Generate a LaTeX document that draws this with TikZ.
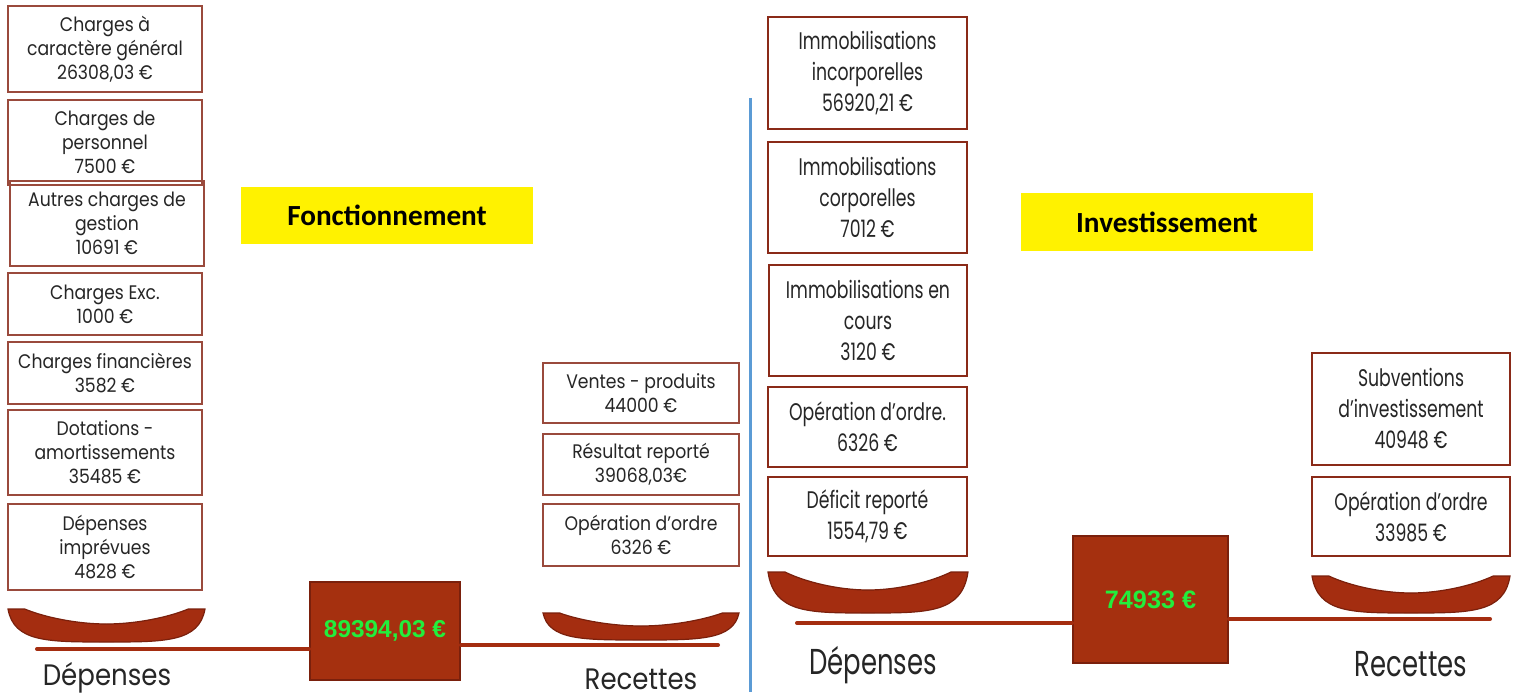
\documentclass[tikz,border=0pt]{standalone}
\usepackage{fontspec}
\setmainfont{Poppins}
\newfontfamily\lfont[FakeStretch=0.88]{Poppins}
\newfontfamily\rfont[FakeStretch=0.72]{Poppins}
\newfontfamily\hfont{Carlito}
\newfontfamily\tfont{Liberation Sans}
\definecolor{brd}{HTML}{9A4A3C}
\definecolor{brdR}{HTML}{8A2A18}
\definecolor{bowlc}{HTML}{A42D10}
\definecolor{bowld}{HTML}{7A200C}
\definecolor{tot}{HTML}{A5300F}
\definecolor{totg}{HTML}{22EE3C}
\definecolor{txt}{HTML}{262626}
\definecolor{blueline}{HTML}{5B9BD5}
\tikzset{
  lbox/.style={draw=brd, line width=1pt, inner sep=0pt, align=center, text=txt,
    minimum width=97pt, font=\lfont\fontsize{9.8pt}{12pt}\selectfont},
  rbox/.style={draw=brdR, line width=1pt, inner sep=0pt, align=center, text=txt,
    font=\rfont\fontsize{12pt}{15.5pt}\selectfont},
  totbox/.style={draw=bowld, line width=1pt, fill=tot, inner sep=0pt, text=totg},
  ylw/.style={fill=yellow, inner sep=0pt, font=\hfont\bfseries\fontsize{14.6pt}{16pt}\selectfont},
  beam/.style={draw=bowlc, line width=2pt, line cap=round},
  bigl/.style={text=txt, inner sep=0pt},
}
\newcommand{\bowl}[5]{% x0 x1 ytop ybottom yinner
  \pgfmathsetmacro{\bm}{(#1+#2)/2}
  \pgfmathsetmacro{\bw}{(#2-#1)}
  \pgfmathsetmacro{\bd}{(#5-#3)}
  \fill[bowlc, draw=bowld, line width=0.6pt]
    (#1,#3) .. controls (#1+0.03*\bw,#4) and (\bm-0.3*\bw,#4) .. (\bm,#4)
    .. controls (\bm+0.3*\bw,#4) and (#2-0.03*\bw,#4) .. (#2,#3)
    -- (#2-0.085*\bw,#3)
    .. controls (#2-0.185*\bw,#3+0.55*\bd) and (\bm+0.15*\bw,#5) .. (\bm,#5)
    .. controls (\bm-0.15*\bw,#5) and (#1+0.185*\bw,#3+0.55*\bd) .. (#1+0.085*\bw,#3)
    -- cycle;
}
\begin{document}
\begin{tikzpicture}[x=0.5pt,y=-0.5pt]
\useasboundingbox[fill=white] (0,0) rectangle (1518,699);

% ---------- Fonctionnement ----------
\node[lbox, minimum height=43pt] (c1) at (105,49) {Charges à\\caractère général\\26308,03 €};
\node[lbox, minimum height=42.5pt] (c2) at (105,142.5) {Charges de\\personnel\\7500 €};
\node[lbox, minimum height=42.5pt] (c3) at (107,223.5) {Autres charges de\\gestion\\10691 €};
\node[lbox, minimum height=31pt] (c4) at (105,304) {Charges Exc.\\1000 €};
\node[lbox, minimum height=31pt] (c5) at (105,373) {Charges financières\\3582 €};
\node[lbox, minimum height=42.5pt] (c6) at (105,452.5) {Dotations -\\amortissements\\35485 €};
\node[lbox, minimum height=43pt] (c7) at (105,547) {Dépenses\\imprévues\\4828 €};

\node[lbox, minimum width=98pt, minimum height=30pt] (r1) at (641,393) {Ventes - produits\\44000 €};
\node[lbox, minimum width=98pt, minimum height=30.5pt] (r2) at (641,464.5) {Résultat reporté\\39068,03€};
\node[lbox, minimum width=98pt, minimum height=31pt] (r3) at (641,535) {Opération d’ordre\\6326 €};

\node[ylw, minimum width=146pt, minimum height=28.5pt] (fonc) at (387,215.5) {Fonctionnement};

\bowl{8}{205}{609}{642}{624}
\bowl{543}{739}{613}{640}{626}

\node[totbox, minimum width=75pt, minimum height=49pt, font=\tfont\bfseries\fontsize{12.2pt}{14pt}\selectfont] (t1) at (385,631) {89394,03 €};
\coordinate (b1l) at (37,649);
\coordinate (b1r) at (718,645);
\draw[beam] (b1l) -- (t1.west |- b1l);
\draw[beam] (t1.east |- b1r) -- (b1r);

\node[bigl, font=\lfont\fontsize{14.8pt}{16pt}\selectfont] (dep1) at (107,678) {Dépenses};
\node[bigl, font=\lfont\fontsize{14.8pt}{16pt}\selectfont] (rec1) at (641,679) {Recettes};

% ---------- separator ----------
\coordinate (s1) at (750,98);
\coordinate (s2) at (750,692);
\draw[blueline, line width=1.5pt] (s1) -- (s2);

% ---------- Investissement ----------
\node[rbox, minimum width=99.5pt, minimum height=56pt] (i1) at (867.5,73) {Immobilisations\\incorporelles\\56920,21 €};
\node[rbox, minimum width=99.5pt, minimum height=55.5pt] (i2) at (867.5,197.5) {Immobilisations\\corporelles\\7012 €};
\node[rbox, minimum width=99pt, minimum height=55.5pt] (i3) at (868,320.5) {Immobilisations en\\cours\\3120 €};
\node[rbox, minimum width=99.5pt, minimum height=40pt] (i4) at (867.5,427) {Opération d’ordre.\\6326 €};
\node[rbox, minimum width=99.5pt, minimum height=39.5pt] (i5) at (867.5,516.5) {Déficit reporté\\1554,79 €};

\node[rbox, minimum width=99pt, minimum height=56pt] (j1) at (1411,409) {Subventions\\d’investissement\\40948 €};
\node[rbox, minimum width=99pt, minimum height=39.5pt] (j2) at (1411,516.5) {Opération d’ordre\\33985 €};

\node[ylw, minimum width=146pt, minimum height=29pt] (inv) at (1167,222) {Investissement};

\bowl{768}{968}{572}{613}{590}
\bowl{1312}{1510}{576}{613}{593}

\node[totbox, minimum width=77.5pt, minimum height=63.5pt, font=\tfont\bfseries\fontsize{12.6pt}{15pt}\selectfont] (t2) at (1150.5,599.5) {74933 €};
\coordinate (b2l) at (797,623);
\coordinate (b2r) at (1490,619);
\draw[beam] (b2l) -- (t2.west |- b2l);
\draw[beam] (t2.east |- b2r) -- (b2r);

\node[bigl, font=\rfont\fontsize{18pt}{20pt}\selectfont] (dep2) at (873,665) {Dépenses};
\node[bigl, font=\rfont\fontsize{18pt}{20pt}\selectfont] (rec2) at (1411,664) {Recettes};
\end{tikzpicture}
\end{document}
